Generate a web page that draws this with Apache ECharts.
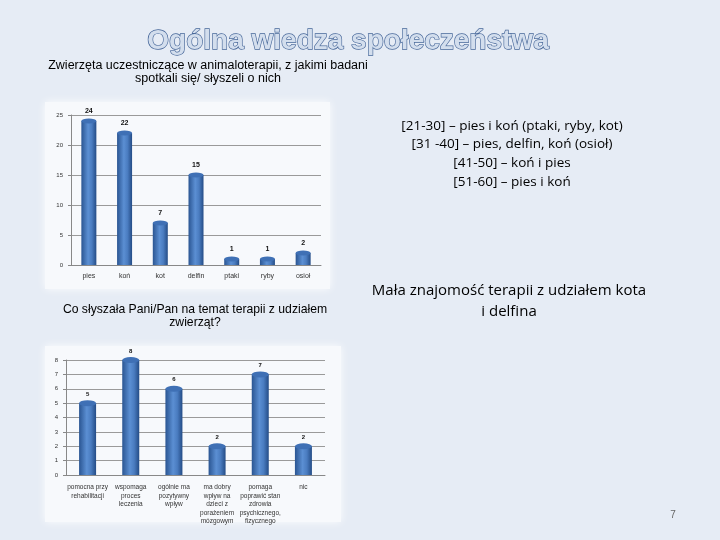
<!DOCTYPE html>
<html><head><meta charset="utf-8">
<script src="https://cdn.jsdelivr.net/npm/echarts@6/dist/echarts.min.js"></script>
<style>html,body{margin:0;padding:0;background:#e6ecf5}#c{width:720px;height:540px}</style>
</head><body><div id="c"></div>
<script>
const animals = ['pies','koń','kot','delfin','ptaki','ryby','osioł'];
const animalCounts = [24,22,7,15,1,1,2];
const opinions = ['pomocna przy\nrehabilitacji','wspomaga\nproces\nleczenia','ogólnie ma\npozytywny\nwpływ','ma dobry\nwpływ na\ndzieci z\nporażeniem\nmózgowym','pomaga\npoprawić stan\nzdrowia\npsychicznego,\nfizycznego','nic'];
const opinionCounts = [5,8,6,2,7,2];
const ageLines = ['[21-30] – pies i koń (ptaki, ryby, kot)','[31 -40] – pies, delfin, koń (osioł)','[41-50] – koń i pies','[51-60] – pies i koń'];

const chart = echarts.init(document.getElementById('c'));
const barGrad = new echarts.graphic.LinearGradient(0,0,1,0,[
  {offset:0,color:'#2a5592'},{offset:0.45,color:'#5b8fd3'},{offset:0.7,color:'#4a7cc0'},{offset:1,color:'#244c86'}]);
const axisLbl = {color:'#333',fontSize:7,fontFamily:'Liberation Sans'};
chart.setOption({
  backgroundColor:'#e6ecf5',
  animation:false,
  graphic:[
    {type:'rect',shape:{x:45,y:102,width:285,height:187},style:{fill:'#f7f9fc',shadowBlur:8,shadowColor:'rgba(255,255,255,0.9)'},z:-10},
    {type:'rect',shape:{x:45,y:346,width:296,height:176},style:{fill:'#f7f9fc',shadowBlur:8,shadowColor:'rgba(255,255,255,0.9)'},z:-10},
    {type:'text',style:{text:'Ogólna wiedza społeczeństwa',x:348,y:41,textAlign:'center',textVerticalAlign:'middle',font:'bold 28px "Liberation Sans"',fill:'#d3deed',stroke:'#48689a',lineWidth:1.3}},
    {type:'text',style:{text:'Zwierzęta uczestniczące w animaloterapii, z jakimi badani\nspotkali się/ słyszeli o nich',x:208,y:72,textAlign:'center',textVerticalAlign:'middle',font:'12.5px "Liberation Sans"',fill:'#000',lineHeight:13}},
    {type:'text',style:{text:ageLines.join('\n'),x:512,y:154,textAlign:'center',textVerticalAlign:'middle',font:'13.5px "Open Sans"',fill:'#000',lineHeight:18.7}},
    {type:'text',style:{text:'Mała znajomość terapii z udziałem kota\ni delfina',x:509,y:301,textAlign:'center',textVerticalAlign:'middle',font:'15px "Open Sans"',fill:'#000',lineHeight:21}},
    {type:'text',style:{text:'Co słyszała Pani/Pan na temat terapii z udziałem\nzwierząt?',x:195,y:316,textAlign:'center',textVerticalAlign:'middle',font:'12.2px "Liberation Sans"',fill:'#000',lineHeight:13}},
    {type:'text',style:{text:'7',x:673,y:515,textAlign:'center',textVerticalAlign:'middle',font:'10px "Liberation Sans"',fill:'#666'}}
  ],
  grid:[
    {left:71,right:399,top:115,bottom:275},
    {left:66,right:395,top:360,bottom:65}
  ],
  xAxis:[
    {gridIndex:0,type:'category',data:animals,axisTick:{show:false},axisLine:{lineStyle:{color:'#888'}},axisLabel:Object.assign({margin:8},axisLbl)},
    {gridIndex:1,type:'category',data:opinions,axisTick:{show:false},axisLine:{lineStyle:{color:'#888'}},axisLabel:Object.assign({},axisLbl,{margin:8,interval:0,lineHeight:8.5,fontSize:6.5,verticalAlign:'top'})}
  ],
  yAxis:[
    {gridIndex:0,type:'value',min:0,max:25,interval:5,axisLine:{show:true,lineStyle:{color:'#888'}},axisTick:{show:true,length:3,lineStyle:{color:'#888'}},axisLabel:Object.assign({},axisLbl,{margin:8,fontSize:6}),splitLine:{lineStyle:{color:'#9a9a9a',width:1}}},
    {gridIndex:1,type:'value',min:0,max:8,interval:1,axisLine:{show:true,lineStyle:{color:'#888'}},axisTick:{show:true,length:3,lineStyle:{color:'#888'}},axisLabel:Object.assign({},axisLbl,{margin:8,fontSize:6}),splitLine:{lineStyle:{color:'#9a9a9a',width:1}}}
  ],
  series:[
    {type:'bar',xAxisIndex:0,yAxisIndex:0,data:animalCounts,barWidth:15,itemStyle:{color:barGrad},
     label:{show:true,position:'top',distance:6,fontSize:7,fontWeight:'bold',color:'#111',fontFamily:'Liberation Sans'}},
    {type:'pictorialBar',xAxisIndex:0,yAxisIndex:0,data:animalCounts,symbol:'circle',symbolSize:[15,5],symbolPosition:'end',symbolOffset:[0,'-50%'],itemStyle:{color:'#3f70b5'},z:3,silent:true},
    {type:'bar',xAxisIndex:1,yAxisIndex:1,data:opinionCounts,barWidth:17,itemStyle:{color:barGrad},
     label:{show:true,position:'top',distance:6,fontSize:6,fontWeight:'bold',color:'#111',fontFamily:'Liberation Sans'}},
    {type:'pictorialBar',xAxisIndex:1,yAxisIndex:1,data:opinionCounts,symbol:'circle',symbolSize:[17,6],symbolPosition:'end',symbolOffset:[0,'-50%'],itemStyle:{color:'#3f70b5'},z:3,silent:true}
  ]
});
</script></body></html>
